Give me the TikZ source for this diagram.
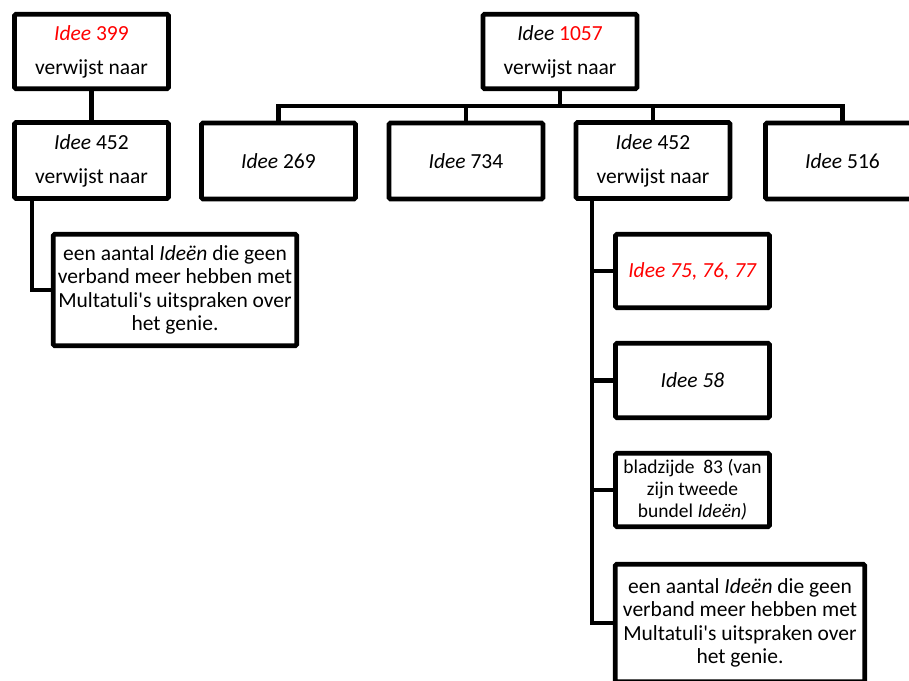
\documentclass[tikz,border=0pt]{standalone}
\usepackage{fontspec}
\setmainfont{Carlito}
\definecolor{ideered}{RGB}{255,0,0}
\begin{document}
\begin{tikzpicture}[x=1pt,y=-1pt,
  box/.style={draw=black, line width=4.7pt, rounded corners=1.5pt, fill=white, inner sep=0pt,
    minimum width=154pt, minimum height=76pt, align=center,
    font=\fontsize{21.5}{23.5}\selectfont},
  link/.style={line width=4.7pt, line join=miter}]
\useasboundingbox (0,0) rectangle (909,680);
\clip (0,0) rectangle (909,680);
% top row
\node[box, minimum height=74.5pt] (a) at (91.5,51.5) {\textcolor{ideered}{\textit{Idee} 399}\\[10.5pt]verwijst naar};
\node[box, minimum height=74.5pt] (n1057) at (560,51.5) {\textit{Idee} \textcolor{ideered}{1057}\\[10.5pt]verwijst naar};
% second row
\node[box] (b) at (91.5,160.5) {\textit{Idee} 452\\[10.5pt]verwijst naar};
\node[box] (n269) at (278.5,161) {\textit{Idee} 269};
\node[box] (n734) at (466,161) {\textit{Idee} 734};
\node[box] (n452) at (653,160.5) {\textit{Idee} 452\\[10.5pt]verwijst naar};
\node[box] (n516) at (842.5,161) {\textit{Idee} 516};
% left leaf
\node[box, minimum width=243.5pt, minimum height=111.5pt] (c) at (175,290)
  {een aantal \textit{Ideën} die geen\\verband meer hebben met\\Multatuli\textquotesingle s uitspraken over\\het genie.};
% right leaves
\node[box, minimum height=73.5pt] (d) at (692.5,271) {\color{ideered}\textit{Idee 75, 76, 77}};
\node[box, minimum height=74.5pt] (e) at (692.5,380.5) {\textit{Idee 58}};
\node[box, minimum height=73.5pt, font=\fontsize{19.5}{22}\selectfont] (f) at (692.5,490)
  {bladzijde\ \ 83 (van\\zijn tweede\\bundel \textit{Ideën)}};
\node[box, minimum width=249.5pt, minimum height=117.5pt] (g) at (740,623)
  {een aantal \textit{Ideën} die geen\\verband meer hebben met\\Multatuli\textquotesingle s uitspraken over\\het genie.};
% connectors
\draw[link] (a.south) -- (a.south |- b.north);
\coordinate (bus) at (560,106);
\foreach \ch in {n269,n734,n452,n516}
  \draw[link] (n1057.south) |- (\ch.north |- bus) -- (\ch.north);
\draw[link] ([xshift=-59.5pt]b.south) |- (c.west);
\foreach \ch in {d,e,f,g}
  \draw[link] ([xshift=-61pt]n452.south) |- (\ch.west);
\end{tikzpicture}
\end{document}
